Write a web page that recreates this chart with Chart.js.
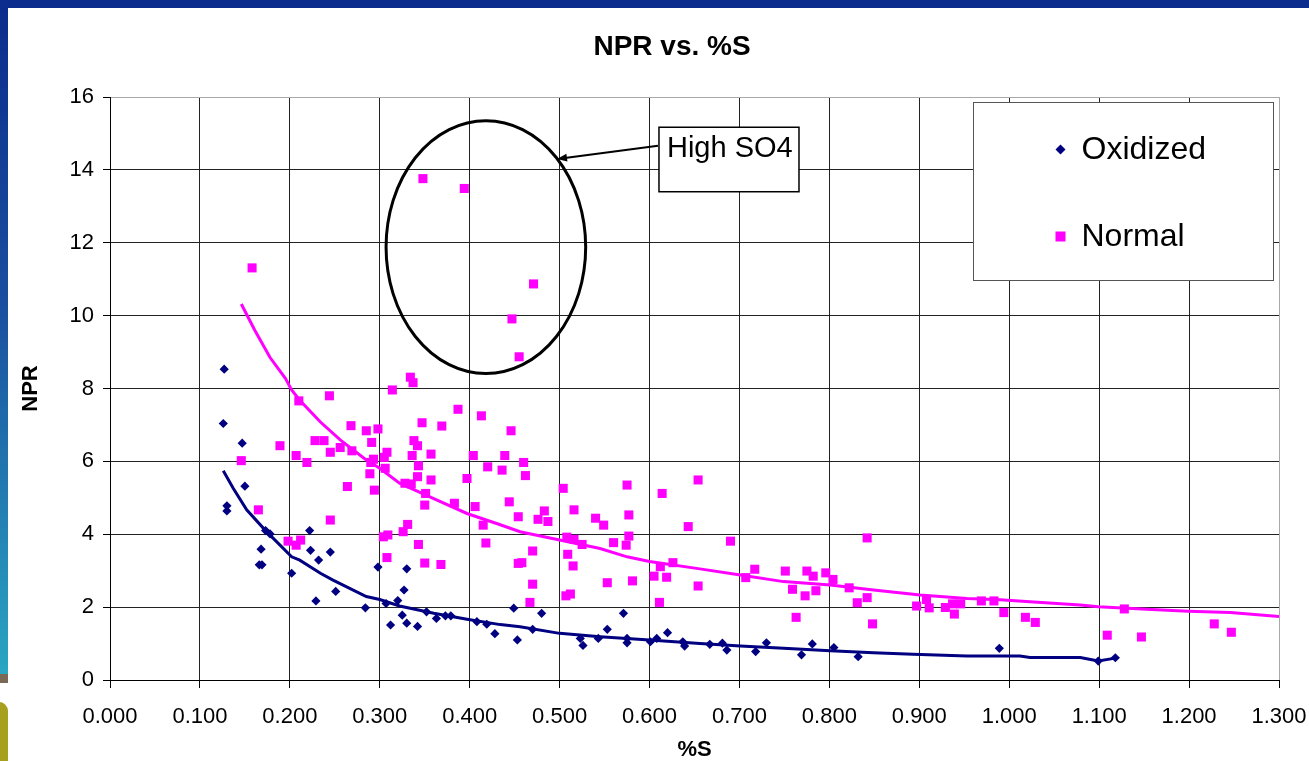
<!DOCTYPE html>
<html>
<head>
<meta charset="utf-8">
<script src="https://cdn.jsdelivr.net/npm/chart.js@4/dist/chart.umd.min.js"></script>
<style>
  html, body { margin: 0; padding: 0; background: #fff; }
  #wrap { position: relative; width: 1309px; height: 761px; overflow: hidden; background: #fff; }
  .bar-top { position: absolute; left: 0; top: 0; width: 1309px; height: 8px; background: #0b2c8c; }
  .bar-left { position: absolute; left: 0; top: 0; width: 8px; height: 677px; background: linear-gradient(#0b2c8c, #1a4f9f 45%, #2aa6c2); }
  .bar-brown { position: absolute; left: 0; top: 674px; width: 8px; height: 9px; background: #7a6955; }
  .blob { position: absolute; left: -10px; top: 702px; width: 18px; height: 70px; border-radius: 9px; background: #a79f1e; }
  canvas { position: absolute; left: 0; top: 0; }
</style>
</head>
<body>
<div id="wrap">
  <div class="bar-top"></div>
  <div class="bar-left"></div>
  <div class="bar-brown"></div>
  <div class="blob"></div>
  <canvas id="npr" width="1309" height="761"></canvas>
</div>
<script>
// Oxidized samples (%S, NPR)
const oxX = [0.127, 0.126, 0.147, 0.150, 0.130, 0.130, 0.173, 0.178, 0.168, 0.166, 0.169, 0.202, 0.222, 0.223, 0.232, 0.229,
  0.245, 0.251, 0.284, 0.298, 0.330, 0.327, 0.307, 0.320, 0.312, 0.325, 0.330, 0.342, 0.352, 0.363, 0.373, 0.379,
  0.408, 0.419, 0.428, 0.449, 0.453, 0.480, 0.470, 0.523, 0.526, 0.543, 0.553, 0.571, 0.575, 0.575, 0.601, 0.608,
  0.620, 0.637, 0.639, 0.667, 0.681, 0.686, 0.718, 0.730, 0.769, 0.781, 0.805, 0.832, 0.989, 1.099, 1.118];
const oxY = [8.53, 7.04, 6.50, 5.32, 4.78, 4.64, 4.10, 4.01, 3.59, 3.16, 3.16, 2.93, 4.10, 3.56, 3.29, 2.17,
  3.51, 2.43, 1.98, 3.10, 3.05, 2.47, 2.10, 2.18, 1.51, 1.78, 1.56, 1.47, 1.87, 1.69, 1.76, 1.76,
  1.60, 1.53, 1.27, 1.97, 1.10, 1.83, 1.39, 1.14, 0.95, 1.14, 1.39, 1.83, 1.14, 1.02, 1.05, 1.14,
  1.30, 1.05, 0.93, 0.98, 1.01, 0.82, 0.78, 1.02, 0.69, 0.99, 0.89, 0.64, 0.87, 0.52, 0.61];

// Normal samples (%S, NPR)
const nmX = [0.348, 0.394, 0.158, 0.471, 0.447, 0.455, 0.334, 0.337, 0.314, 0.244, 0.387, 0.413, 0.446, 0.210, 0.228, 0.238,
  0.189, 0.207, 0.219, 0.146, 0.165, 0.198, 0.207, 0.212, 0.268, 0.285, 0.298, 0.347, 0.369, 0.291, 0.338, 0.342,
  0.256, 0.269, 0.245, 0.308, 0.305, 0.293, 0.290, 0.336, 0.357, 0.404, 0.439, 0.306, 0.343, 0.342, 0.420, 0.436,
  0.289, 0.357, 0.397, 0.328, 0.335, 0.264, 0.294, 0.351, 0.350, 0.383, 0.406, 0.444, 0.454, 0.415, 0.245, 0.331,
  0.326, 0.304, 0.309, 0.343, 0.418, 0.308, 0.350, 0.368, 0.454, 0.460, 0.462, 0.504, 0.575, 0.614, 0.654, 0.483,
  0.476, 0.487, 0.516, 0.540, 0.549, 0.577, 0.643, 0.577, 0.574, 0.508, 0.516, 0.525, 0.560, 0.470, 0.458, 0.509,
  0.515, 0.612, 0.626, 0.605, 0.619, 0.470, 0.553, 0.581, 0.654, 0.507, 0.512, 0.467, 0.611, 0.690, 0.842, 0.707,
  0.717, 0.751, 0.775, 0.782, 0.796, 0.804, 0.759, 0.773, 0.785, 0.822, 0.831, 0.842, 0.763, 0.848, 0.897, 0.908,
  0.911, 0.929, 0.937, 0.946, 0.939, 0.969, 0.983, 0.994, 1.018, 1.029, 1.128, 1.109, 1.147, 1.228, 1.247];
const nmY = [13.76, 13.49, 11.31, 10.87, 9.91, 8.87, 8.31, 8.16, 7.96, 7.80, 7.43, 7.25, 6.84, 7.66, 6.57, 6.57,
  6.43, 6.16, 5.97, 6.02, 4.67, 3.81, 3.70, 3.84, 6.98, 6.84, 6.89, 7.06, 6.97, 6.52, 6.57, 6.43,
  6.38, 6.29, 6.25, 6.25, 6.11, 6.06, 5.97, 6.16, 6.20, 6.16, 6.16, 5.81, 5.88, 5.58, 5.85, 5.76,
  5.66, 5.49, 5.53, 5.40, 5.38, 5.31, 5.21, 5.12, 4.80, 4.85, 4.76, 4.89, 4.48, 4.25, 4.39, 4.27,
  4.07, 3.93, 3.98, 3.72, 3.76, 3.36, 3.21, 3.17, 3.20, 5.97, 5.61, 5.26, 5.35, 5.12, 5.49, 4.64,
  4.41, 4.35, 4.67, 4.44, 4.25, 4.53, 4.21, 3.95, 3.70, 3.92, 3.86, 3.72, 3.77, 3.54, 3.22, 3.45,
  3.13, 3.11, 3.22, 2.85, 2.82, 2.63, 2.67, 2.72, 2.58, 2.31, 2.36, 2.13, 2.13, 3.81, 3.90, 2.81,
  3.04, 2.99, 2.99, 2.85, 2.94, 2.76, 2.49, 2.31, 2.45, 2.53, 2.12, 2.26, 1.72, 1.54, 2.03, 2.21,
  1.98, 1.99, 2.09, 2.09, 1.81, 2.17, 2.17, 1.85, 1.72, 1.58, 1.95, 1.23, 1.18, 1.54, 1.31];

// trend lines
const oxTrendX = [0.126, 0.137, 0.152, 0.173, 0.202, 0.211, 0.234, 0.248, 0.285, 0.300, 0.322, 0.360, 0.397, 0.434, 0.456,
  0.500, 0.545, 0.600, 0.656, 0.701, 0.749, 0.801, 0.849, 0.893, 0.953, 0.990, 1.012, 1.023, 1.079, 1.099, 1.118];
const oxTrendY = [5.74, 5.26, 4.67, 4.10, 3.38, 3.29, 2.93, 2.74, 2.29, 2.21, 2.03, 1.83, 1.67, 1.52, 1.46,
  1.28, 1.19, 1.10, 1.00, 0.93, 0.87, 0.80, 0.75, 0.71, 0.66, 0.66, 0.66, 0.62, 0.62, 0.52, 0.60];
const nmTrendX = [0.146, 0.161, 0.178, 0.195, 0.202, 0.211, 0.234, 0.256, 0.285, 0.300, 0.322, 0.360, 0.397, 0.434, 0.456,
  0.500, 0.545, 0.575, 0.600, 0.656, 0.701, 0.749, 0.801, 0.849, 0.901, 0.953, 0.990, 1.023, 1.079, 1.099, 1.153,
  1.199, 1.246, 1.300];
const nmTrendY = [10.32, 9.60, 8.85, 8.28, 7.96, 7.68, 7.08, 6.59, 6.04, 5.81, 5.40, 4.98, 4.57, 4.26, 4.07,
  3.84, 3.61, 3.38, 3.25, 3.05, 2.88, 2.70, 2.61, 2.47, 2.33, 2.24, 2.20, 2.15, 2.06, 2.01, 1.94,
  1.89, 1.85, 1.74];

const seriesNames = ['Oxidized', 'Normal'];
const chartTitle = 'NPR vs. %S';

// callout, in axis units
const ellipseCenter = [0.418, 11.88];
const ellipseRadius = [0.111, 3.47];
const calloutText = 'High SO4';
const calloutBox = [0.6105, 15.17, 0.7662, 13.40];
const arrowFrom = [0.6094, 14.66];
const arrowTo = [0.4971, 14.30];
const legendBox = [0.9594, 15.87, 1.2937, 10.98];

const NAVY = '#000080';
const PINK = '#ff00ff';
const FONT = "'Liberation Sans', Arial, sans-serif";

const pts = (xs, ys) => xs.map((x, i) => ({ x, y: ys[i] }));

const callout = {
  id: 'callout',
  afterDraw(chart) {
    const { ctx, scales: { x, y } } = chart;
    ctx.save();

    // title (sits a little left of the plot centre in the original)
    ctx.fillStyle = '#000';
    ctx.font = 'bold 28px ' + FONT;
    ctx.textAlign = 'center';
    ctx.textBaseline = 'middle';
    ctx.fillText(chartTitle, 672, 47);

    // ellipse round the high SO4 samples
    const cx = x.getPixelForValue(ellipseCenter[0]);
    const cy = y.getPixelForValue(ellipseCenter[1]);
    const rx = x.getPixelForValue(ellipseCenter[0] + ellipseRadius[0]) - cx;
    const ry = cy - y.getPixelForValue(ellipseCenter[1] + ellipseRadius[1]);
    ctx.beginPath();
    ctx.ellipse(cx, cy, rx, ry, 0, 0, Math.PI * 2);
    ctx.lineWidth = 3;
    ctx.strokeStyle = '#000';
    ctx.stroke();

    // arrow
    const ax0 = x.getPixelForValue(arrowFrom[0]), ay0 = y.getPixelForValue(arrowFrom[1]);
    const ax1 = x.getPixelForValue(arrowTo[0]), ay1 = y.getPixelForValue(arrowTo[1]);
    const ang = Math.atan2(ay1 - ay0, ax1 - ax0);
    ctx.beginPath();
    ctx.moveTo(ax0, ay0);
    ctx.lineTo(ax1 - 6 * Math.cos(ang), ay1 - 6 * Math.sin(ang));
    ctx.lineWidth = 2;
    ctx.stroke();
    ctx.beginPath();
    ctx.moveTo(ax1, ay1);
    ctx.lineTo(ax1 - 10 * Math.cos(ang) + 4 * Math.sin(ang), ay1 - 10 * Math.sin(ang) - 4 * Math.cos(ang));
    ctx.lineTo(ax1 - 10 * Math.cos(ang) - 4 * Math.sin(ang), ay1 - 10 * Math.sin(ang) + 4 * Math.cos(ang));
    ctx.closePath();
    ctx.fillStyle = '#000';
    ctx.fill();

    // text box
    const bx0 = x.getPixelForValue(calloutBox[0]), by0 = y.getPixelForValue(calloutBox[1]);
    const bx1 = x.getPixelForValue(calloutBox[2]), by1 = y.getPixelForValue(calloutBox[3]);
    ctx.fillStyle = '#fff';
    ctx.fillRect(bx0, by0, bx1 - bx0, by1 - by0);
    ctx.lineWidth = 1.5;
    ctx.strokeRect(bx0, by0, bx1 - bx0, by1 - by0);
    ctx.fillStyle = '#000';
    ctx.font = '29px ' + FONT;
    ctx.textAlign = 'left';
    ctx.fillText(calloutText, bx0 + 8, by0 + 22);

    // legend
    const lx0 = Math.round(x.getPixelForValue(legendBox[0])) + 0.5, ly0 = Math.round(y.getPixelForValue(legendBox[1])) + 0.5;
    const lx1 = Math.round(x.getPixelForValue(legendBox[2])) + 0.5, ly1 = Math.round(y.getPixelForValue(legendBox[3])) + 0.5;
    ctx.fillStyle = '#fff';
    ctx.fillRect(lx0, ly0, lx1 - lx0, ly1 - ly0);
    ctx.lineWidth = 1;
    ctx.strokeStyle = '#555';
    ctx.strokeRect(lx0, ly0, lx1 - lx0, ly1 - ly0);
    const rows = [ly0 + 47, ly0 + 134];
    const mx = lx0 + 87;
    ctx.fillStyle = NAVY;
    ctx.beginPath();
    ctx.moveTo(mx, rows[0] - 5); ctx.lineTo(mx + 5, rows[0]); ctx.lineTo(mx, rows[0] + 5); ctx.lineTo(mx - 5, rows[0]);
    ctx.closePath();
    ctx.fill();
    ctx.fillStyle = PINK;
    ctx.fillRect(mx - 5, rows[1] - 5, 10, 10);
    ctx.fillStyle = '#000';
    ctx.font = '32px ' + FONT;
    ctx.fillText(chart.data.datasets[0].label, lx0 + 108, rows[0] + 1);
    ctx.fillText(chart.data.datasets[1].label, lx0 + 108, rows[1] + 1);
    ctx.restore();
  }
};

const gridColor = last => c => (c.tick && Math.abs(c.tick.value - last) < 1e-6 ? '#a8a8a8' : '#222');

new Chart(document.getElementById('npr'), {
  type: 'scatter',
  data: {
    datasets: [
      { label: seriesNames[0], data: pts(oxX, oxY), pointStyle: 'rectRot', pointRadius: 4.6,
        backgroundColor: NAVY, borderColor: NAVY, borderWidth: 0, order: 2 },
      { label: seriesNames[1], data: pts(nmX, nmY), pointStyle: 'rect', pointRadius: 6.4,
        backgroundColor: PINK, borderColor: PINK, borderWidth: 0, order: 1 },
      { label: 'Oxidized trend', type: 'line', data: pts(oxTrendX, oxTrendY), borderColor: NAVY,
        borderWidth: 3, pointRadius: 0, fill: false, tension: 0, order: 0 },
      { label: 'Normal trend', type: 'line', data: pts(nmTrendX, nmTrendY), borderColor: PINK,
        borderWidth: 3, pointRadius: 0, fill: false, tension: 0, order: 0 }
    ]
  },
  options: {
    responsive: false,
    animation: false,
    devicePixelRatio: 1,
    layout: { padding: { left: 8, right: 30, top: 97, bottom: 0 } },
    plugins: {
      legend: { display: false },
      tooltip: { enabled: false },
      title: { display: false }
    },
    scales: {
      x: {
        type: 'linear', min: 0, max: 1.3,
        ticks: { stepSize: 0.1, autoSkip: false, maxRotation: 0, color: '#000', padding: 16,
          font: { family: FONT, size: 22 }, callback: v => v.toFixed(3) },
        grid: { color: gridColor(1.3), lineWidth: 1, tickLength: 8, tickColor: '#000' },
        border: { color: '#000', width: 1 },
        title: { display: true, text: '%S', color: '#000', padding: { top: 0, bottom: 0 },
          font: { family: FONT, size: 22, weight: 'bold', lineHeight: 1 } },
        afterFit: s => { s.height = 81; s.paddingLeft = 0; s.paddingRight = 0; }
      },
      y: {
        min: 0, max: 16,
        ticks: { stepSize: 2, color: '#000', padding: 9, font: { family: FONT, size: 22 } },
        grid: { color: gridColor(16), lineWidth: 1, tickLength: 7, tickColor: '#000' },
        border: { color: '#000', width: 1 },
        title: { display: true, text: 'NPR', color: '#000', padding: { top: 12, bottom: 0 },
          font: { family: FONT, size: 22, weight: 'bold', lineHeight: 1 } },
        afterFit: s => { s.width = 102; s.paddingTop = 0; s.paddingBottom = 0; }
      }
    }
  },
  plugins: [callout]
});
</script>
</body>
</html>
